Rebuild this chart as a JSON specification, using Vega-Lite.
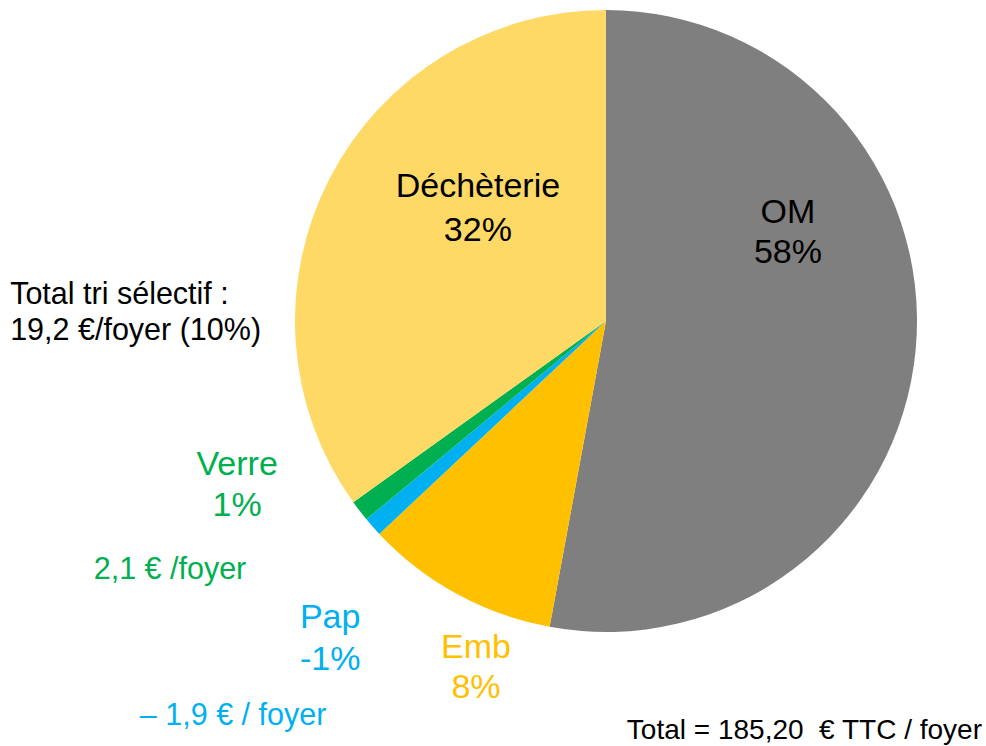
{
  "$schema": "https://vega.github.io/schema/vega-lite/v6.json",
  "width": 986,
  "height": 746,
  "padding": 0,
  "autosize": {"type": "fit", "contains": "padding"},
  "background": "white",
  "config": {"view": {"stroke": null}},
  "datasets": {
    "slices": [
      {"poste": "OM", "ord": 1, "part": 52.9},
      {"poste": "Emb", "ord": 2, "part": 10.1},
      {"poste": "Pap", "ord": 3, "part": 1.0},
      {"poste": "Verre", "ord": 4, "part": 1.1},
      {"poste": "Déchèterie", "ord": 5, "part": 34.9}
    ],
    "labels": [
      {"texte": "OM", "gx": 0.585, "gy": 0.347, "groupe": "noir", "taille": "grand", "align": "c"},
      {"texte": "58%", "gx": 0.585, "gy": 0.219, "groupe": "noir", "taille": "grand", "align": "c"},
      {"texte": "Déchèterie", "gx": -0.412, "gy": 0.431, "groupe": "noir", "taille": "grand", "align": "c"},
      {"texte": "32%", "gx": -0.412, "gy": 0.289, "groupe": "noir", "taille": "grand", "align": "c"},
      {"texte": "Verre", "gx": -1.186, "gy": -0.463, "groupe": "Verre", "taille": "grand", "align": "c"},
      {"texte": "1%", "gx": -1.186, "gy": -0.595, "groupe": "Verre", "taille": "grand", "align": "c"},
      {"texte": "2,1 € /foyer", "gx": -1.402, "gy": -0.801, "groupe": "Verre", "taille": "petit", "align": "c"},
      {"texte": "Pap", "gx": -0.887, "gy": -0.955, "groupe": "Pap", "taille": "grand", "align": "c"},
      {"texte": "-1%", "gx": -0.887, "gy": -1.09, "groupe": "Pap", "taille": "grand", "align": "c"},
      {"texte": "– 1,9 € / foyer", "gx": -1.199, "gy": -1.27, "groupe": "Pap", "taille": "petit", "align": "c"},
      {"texte": "Emb", "gx": -0.418, "gy": -1.051, "groupe": "Emb", "taille": "grand", "align": "c"},
      {"texte": "8%", "gx": -0.418, "gy": -1.18, "groupe": "Emb", "taille": "grand", "align": "c"},
      {"texte": "Total tri sélectif :", "gx": -1.916, "gy": 0.084, "groupe": "noir", "taille": "petit", "align": "l"},
      {"texte": "19,2 €/foyer (10%)", "gx": -1.916, "gy": -0.032, "groupe": "noir", "taille": "petit", "align": "l"},
      {"texte": "Total = 185,20\u00a0 € TTC / foyer", "gx": 1.209, "gy": -1.318, "groupe": "noir", "taille": "moyen", "align": "r"}
    ]
  },
  "layer": [
    {
      "data": {"name": "slices"},
      "mark": {"type": "arc", "outerRadius": 311},
      "encoding": {
        "x": {"datum": 0, "type": "quantitative", "scale": {"domain": [-1.9486, 1.2219], "nice": false, "zero": false}, "axis": null},
        "y": {"datum": 0, "type": "quantitative", "scale": {"domain": [-1.3666, 1.0322], "nice": false, "zero": false}, "axis": null},
        "theta": {"field": "part", "type": "quantitative", "stack": true},
        "order": {"field": "ord", "type": "quantitative"},
        "color": {"field": "poste", "type": "nominal", "legend": null,
          "scale": {"domain": ["OM", "Emb", "Pap", "Verre", "Déchèterie"], "range": ["#7F7F7F", "#FFC000", "#00B0F0", "#00B050", "#FFD966"]}}
      }
    },
    {
      "data": {"name": "labels"},
      "transform": [{"filter": "datum.align == 'c'"}],
      "mark": {"type": "text", "font": "Liberation Sans", "align": "center", "baseline": "middle"},
      "encoding": {
        "x": {"field": "gx", "type": "quantitative", "axis": null},
        "y": {"field": "gy", "type": "quantitative", "axis": null},
        "text": {"field": "texte"},
        "size": {"field": "taille", "type": "nominal", "legend": null, "scale": {"type": "ordinal", "domain": ["grand", "petit", "moyen"], "range": [34, 30.5, 28]}},
        "color": {"field": "groupe", "type": "nominal", "legend": null,
          "scale": {"domain": ["noir", "Verre", "Pap", "Emb"], "range": ["#000000", "#00B050", "#00B0F0", "#FFC000"]}}
      }
    },
    {
      "data": {"name": "labels"},
      "transform": [{"filter": "datum.align == 'l'"}],
      "mark": {"type": "text", "font": "Liberation Sans", "align": "left", "baseline": "middle"},
      "encoding": {
        "x": {"field": "gx", "type": "quantitative", "axis": null},
        "y": {"field": "gy", "type": "quantitative", "axis": null},
        "text": {"field": "texte"},
        "size": {"field": "taille", "type": "nominal", "legend": null, "scale": {"type": "ordinal", "domain": ["grand", "petit", "moyen"], "range": [34, 30.5, 28]}},
        "color": {"field": "groupe", "type": "nominal", "legend": null,
          "scale": {"domain": ["noir", "Verre", "Pap", "Emb"], "range": ["#000000", "#00B050", "#00B0F0", "#FFC000"]}}
      }
    },
    {
      "data": {"name": "labels"},
      "transform": [{"filter": "datum.align == 'r'"}],
      "mark": {"type": "text", "font": "Liberation Sans", "align": "right", "baseline": "middle"},
      "encoding": {
        "x": {"field": "gx", "type": "quantitative", "axis": null},
        "y": {"field": "gy", "type": "quantitative", "axis": null},
        "text": {"field": "texte"},
        "size": {"field": "taille", "type": "nominal", "legend": null, "scale": {"type": "ordinal", "domain": ["grand", "petit", "moyen"], "range": [34, 30.5, 28]}},
        "color": {"field": "groupe", "type": "nominal", "legend": null,
          "scale": {"domain": ["noir", "Verre", "Pap", "Emb"], "range": ["#000000", "#00B050", "#00B0F0", "#FFC000"]}}
      }
    }
  ],
  "resolve": {"scale": {"color": "independent"}}
}
